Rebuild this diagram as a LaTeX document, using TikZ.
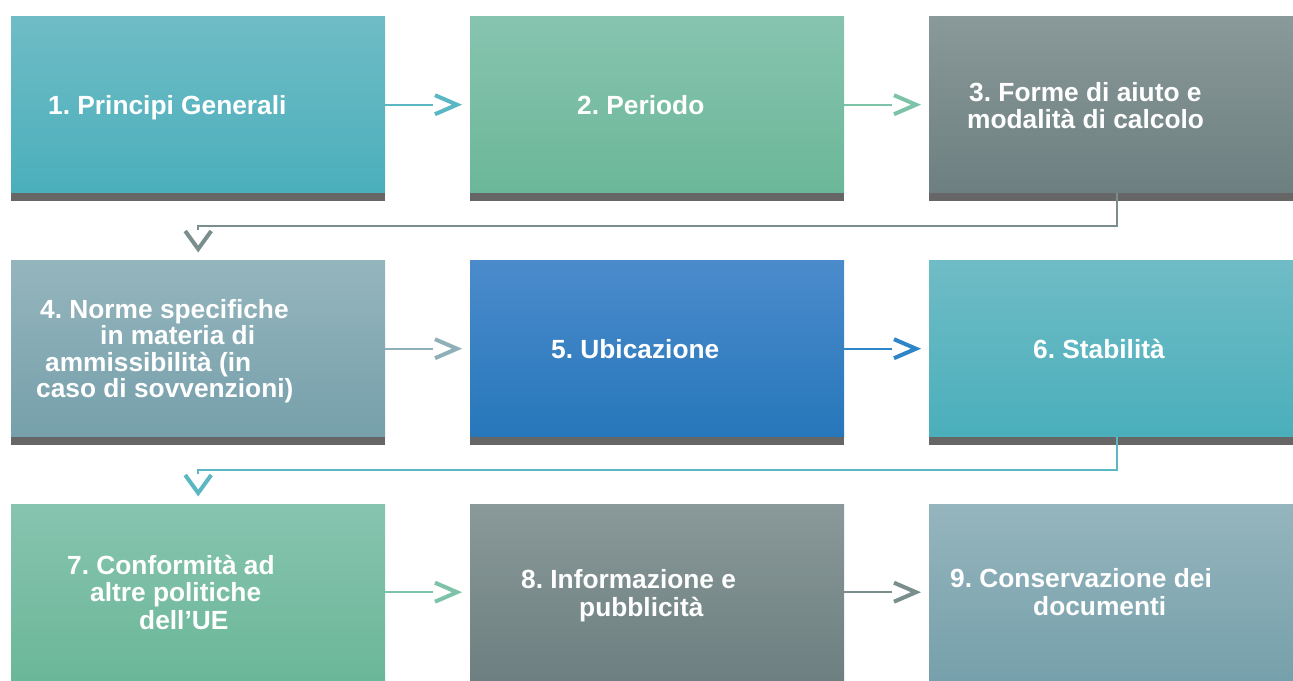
\documentclass[tikz,border=0pt]{standalone}
\usepackage{fontspec}
\setmainfont{Liberation Sans}
\frenchspacing
\usetikzlibrary{calc}
\definecolor{tealT}{HTML}{6FBCC6}
\definecolor{tealB}{HTML}{4AAFBB}
\definecolor{greenT}{HTML}{87C4AF}
\definecolor{greenB}{HTML}{6BB799}
\definecolor{greyT}{HTML}{8A9999}
\definecolor{greyB}{HTML}{6D7F80}
\definecolor{slateT}{HTML}{95B5BD}
\definecolor{slateB}{HTML}{76A0AB}
\definecolor{blueT}{HTML}{4B8BCC}
\definecolor{blueB}{HTML}{2677BA}
\definecolor{barcol}{HTML}{666666}
\definecolor{aTeal}{HTML}{5AB7C3}
\definecolor{aGreen}{HTML}{7CC3A8}
\definecolor{aGrey}{HTML}{7A8E8E}
\definecolor{aSlate}{HTML}{8FB0B8}
\definecolor{aBlue}{HTML}{2E86C8}
\tikzset{
  box/.style={draw=none, rectangle, minimum width=374pt, minimum height=177pt, anchor=north west, inner sep=0pt},
  boxwide/.style={box, minimum width=364pt},
  tealbox/.style={top color=tealT, bottom color=tealB},
  greenbox/.style={top color=greenT, bottom color=greenB},
  greybox/.style={top color=greyT, bottom color=greyB},
  slatebox/.style={top color=slateT, bottom color=slateB},
  bluebox/.style={top color=blueT, bottom color=blueB},
  bar/.style={fill=barcol},
  shaft/.style={line width=2.2pt},
  chev/.style={line width=4pt, line join=miter},
  lbl/.style={text=white, font=\fontsize{26.3}{27}\selectfont\bfseries, anchor=base west, inner sep=0pt}
}
\begin{document}
\begin{tikzpicture}[x=1pt,y=-1pt]
\useasboundingbox (0,0) rectangle (1293,680);
% row 1
\node[box, tealbox] (b1) at (11,16) {};
\node[box, greenbox] (b2) at (470,16) {};
\node[boxwide, greybox] (b3) at (929,16) {};
% row 2
\node[box, slatebox] (b4) at (11,260) {};
\node[box, bluebox] (b5) at (470,260) {};
\node[boxwide, tealbox] (b6) at (929,260) {};
% row 3
\node[box, greenbox, minimum height=176pt] (b7) at (11,504) {};
\node[box, greybox, minimum height=176pt] (b8) at (470,504) {};
\node[boxwide, slatebox, minimum height=176pt] (b9) at (929,504) {};
% bars
\foreach \b/\w in {b1/374,b2/374,b3/364,b4/374,b5/374,b6/364}{
  \fill[bar] (\b.south west) rectangle ++(\w,7.5);
}
% texts
\node[lbl] (t1) at (48,114) {1. Principi Generali};
\node[lbl] (t2) at (577,114) {2. Periodo};
\node[lbl] (t3a) at (969,101) {3. Forme di aiuto e};
\node[lbl] (t3b) at (967,128) {modalità di calcolo};
\node[lbl] (t4a) at (40,318) {4. Norme specifiche};
\node[lbl] (t4b) at (100,344) {in materia di};
\node[lbl] (t4c) at (45,371) {ammissibilità (in};
\node[lbl] (t4d) at (36,397) {caso di sovvenzioni)};
\node[lbl] (t5) at (551,358) {5. Ubicazione};
\node[lbl] (t6) at (1033,358) {6. Stabilità};
\node[lbl] (t7a) at (67,574) {7. Conformità ad};
\node[lbl] (t7b) at (90,601) {altre politiche};
\node[lbl] (t7c) at (139,629) {dell’UE};
\node[lbl] (t8a) at (521,588) {8. Informazione e};
\node[lbl] (t8b) at (579,616) {pubblicità};
\node[lbl] (t9a) at (950,587) {9. Conservazione dei};
\node[lbl] (t9b) at (1033,615) {documenti};
% horizontal connectors
\foreach \a/\b/\c in {b1/b2/aTeal, b2/b3/aGreen, b4/b5/aSlate, b5/b6/aBlue, b7/b8/aGreen, b8/b9/aGrey}{
  \draw[shaft, \c] (\a.east) -- ($(\b.west)+(-37,0)$);
  \draw[chev, \c] ($(\b.west)+(-35,-9.5)$) -- ($(\b.west)+(-13,0)$) -- ($(\b.west)+(-35,9.5)$);
}
% row-change connectors
\draw[shaft, aGrey] ($(b3.south)+(6,0)$) |- ($(b4.north)+(0,-34)$) -- ($(b4.north)+(0,-30)$);
\draw[chev, aGrey] ($(b4.north)+(-13,-29)$) -- ($(b4.north)+(0,-11)$) -- ($(b4.north)+(13,-29)$);
\draw[shaft, aTeal] ($(b6.south)+(6,0)$) |- ($(b7.north)+(0,-34)$) -- ($(b7.north)+(0,-30)$);
\draw[chev, aTeal] ($(b7.north)+(-13,-29)$) -- ($(b7.north)+(0,-11)$) -- ($(b7.north)+(13,-29)$);
\end{tikzpicture}
\end{document}
